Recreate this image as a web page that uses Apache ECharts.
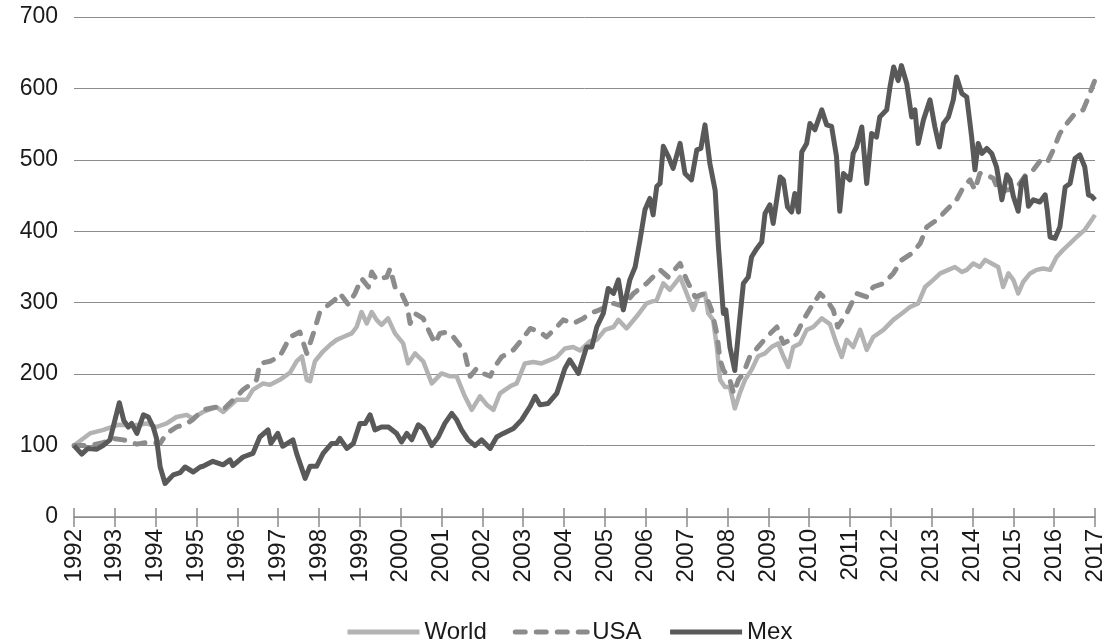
<!DOCTYPE html>
<html>
<head>
<meta charset="utf-8">
<script src="https://cdn.jsdelivr.net/npm/echarts@6/dist/echarts.min.js"></script>
<style>
html,body{margin:0;padding:0;background:#fff;}
#chart{width:1112px;height:643px;}
</style>
</head>
<body>
<div id="chart"></div>
<script>
// [year, index]
var world=[[1992.00,100],[1992.39,117],[1992.72,122],[1993.08,129],[1993.45,128],[1993.78,131],[1994.02,126],[1994.27,131],[1994.51,140],[1994.76,143],[1994.90,138],[1995.16,147],[1995.49,154],[1995.65,147],[1995.98,164],[1996.23,164],[1996.38,178],[1996.63,187],[1996.80,185],[1997.04,192],[1997.29,202],[1997.45,218],[1997.58,225],[1997.70,192],[1997.78,190],[1997.90,218],[1998.10,232],[1998.27,241],[1998.43,248],[1998.59,252],[1998.80,257],[1998.92,266],[1999.04,287],[1999.17,271],[1999.29,287],[1999.41,276],[1999.53,269],[1999.69,278],[1999.86,257],[2000.06,243],[2000.18,215],[2000.35,229],[2000.55,218],[2000.76,187],[2001.00,201],[2001.21,197],[2001.37,197],[2001.57,169],[2001.74,150],[2001.94,169],[2002.11,157],[2002.27,150],[2002.43,173],[2002.68,183],[2002.84,187],[2003.04,215],[2003.24,217],[2003.45,215],[2003.66,220],[2003.82,224],[2004.02,236],[2004.22,238],[2004.39,233],[2004.63,246],[2004.80,248],[2005.00,262],[2005.21,266],[2005.33,276],[2005.53,264],[2005.78,281],[2006.02,299],[2006.27,304],[2006.43,327],[2006.59,318],[2006.84,336],[2007.00,313],[2007.16,290],[2007.29,308],[2007.45,313],[2007.53,285],[2007.65,276],[2007.74,238],[2007.82,192],[2007.94,182],[2008.06,182],[2008.18,152],[2008.30,173],[2008.43,192],[2008.59,206],[2008.75,225],[2008.92,229],[2009.08,238],[2009.24,243],[2009.37,225],[2009.49,210],[2009.61,238],[2009.78,243],[2009.94,262],[2010.10,266],[2010.31,278],[2010.51,270],[2010.67,243],[2010.80,224],[2010.92,248],[2011.08,238],[2011.25,262],[2011.41,234],[2011.57,252],[2011.82,262],[2012.06,276],[2012.27,285],[2012.47,294],[2012.67,299],[2012.84,322],[2013.04,332],[2013.21,341],[2013.41,346],[2013.57,350],[2013.74,343],[2013.86,346],[2014.02,355],[2014.18,350],[2014.31,360],[2014.47,355],[2014.63,350],[2014.75,322],[2014.88,341],[2015.00,332],[2015.12,313],[2015.24,329],[2015.41,341],[2015.57,346],[2015.73,348],[2015.90,346],[2016.06,364],[2016.22,374],[2016.39,383],[2016.55,392],[2016.75,402],[2016.92,416],[2017.00,423]];

var usa=[[1992.00,100],[1992.39,100],[1992.71,104],[1992.96,110],[1993.21,108],[1993.54,102],[1993.86,105],[1994.11,103],[1994.27,117],[1994.51,126],[1994.76,131],[1994.90,136],[1995.16,150],[1995.49,154],[1995.65,150],[1995.90,164],[1996.14,178],[1996.47,192],[1996.55,215],[1996.80,218],[1997.04,225],[1997.29,252],[1997.53,259],[1997.70,229],[1997.86,257],[1998.02,287],[1998.23,297],[1998.39,304],[1998.51,313],[1998.72,297],[1998.88,313],[1999.04,334],[1999.21,322],[1999.29,343],[1999.41,332],[1999.53,334],[1999.66,336],[1999.74,348],[1999.86,322],[2000.02,313],[2000.15,297],[2000.23,271],[2000.35,285],[2000.55,278],[2000.72,257],[2000.84,243],[2000.96,257],[2001.13,259],[2001.29,252],[2001.45,240],[2001.57,229],[2001.70,197],[2001.86,208],[2002.02,201],[2002.19,197],[2002.31,211],[2002.47,224],[2002.76,234],[2002.96,248],[2003.17,264],[2003.41,259],[2003.57,252],[2003.82,266],[2003.98,276],[2004.23,271],[2004.47,278],[2004.63,285],[2004.87,290],[2005.21,299],[2005.45,295],[2005.70,313],[2006.02,327],[2006.35,346],[2006.55,336],[2006.84,355],[2007.00,332],[2007.21,308],[2007.45,313],[2007.61,290],[2007.74,257],[2007.82,220],[2007.90,206],[2008.06,192],[2008.15,173],[2008.27,192],[2008.39,201],[2008.55,225],[2008.75,238],[2008.96,252],[2009.21,266],[2009.37,243],[2009.53,248],[2009.70,257],[2009.86,276],[2010.06,295],[2010.27,313],[2010.43,304],[2010.59,290],[2010.70,266],[2010.92,285],[2011.16,313],[2011.41,308],[2011.57,322],[2011.82,327],[2012.06,341],[2012.27,360],[2012.51,369],[2012.72,383],[2012.88,406],[2013.13,416],[2013.37,430],[2013.61,444],[2013.78,462],[2013.94,472],[2014.06,458],[2014.18,481],[2014.35,479],[2014.51,474],[2014.67,453],[2014.84,458],[2015.00,458],[2015.16,467],[2015.33,481],[2015.49,486],[2015.65,498],[2015.82,495],[2015.98,514],[2016.14,537],[2016.31,551],[2016.51,565],[2016.71,570],[2016.84,588],[2017.00,612]];

var mex=[[1992.00,100],[1992.19,88],[1992.34,96],[1992.56,95],[1992.71,100],[1992.88,108],[1993.11,160],[1993.22,135],[1993.33,126],[1993.41,131],[1993.54,117],[1993.70,143],[1993.82,140],[1993.94,126],[1994.02,110],[1994.11,70],[1994.23,47],[1994.43,59],[1994.60,62],[1994.72,70],[1994.92,63],[1995.09,70],[1995.16,71],[1995.40,78],[1995.65,73],[1995.82,80],[1995.89,72],[1996.14,84],[1996.38,89],[1996.55,112],[1996.75,122],[1996.82,103],[1996.99,117],[1997.11,99],[1997.36,108],[1997.45,89],[1997.66,54],[1997.78,71],[1997.94,71],[1998.10,89],[1998.31,103],[1998.43,103],[1998.51,110],[1998.68,96],[1998.84,103],[1999.00,131],[1999.13,131],[1999.25,143],[1999.37,122],[1999.53,126],[1999.70,126],[1999.90,117],[2000.02,105],[2000.15,117],[2000.27,108],[2000.43,129],[2000.55,124],[2000.76,100],[2000.92,112],[2001.08,131],[2001.25,145],[2001.37,136],[2001.49,122],[2001.65,108],[2001.82,100],[2001.98,108],[2002.19,96],[2002.35,112],[2002.51,117],[2002.76,124],[2002.96,136],[2003.17,155],[2003.29,169],[2003.41,157],[2003.61,159],[2003.82,173],[2004.02,208],[2004.14,220],[2004.35,201],[2004.55,238],[2004.68,238],[2004.80,266],[2004.96,285],[2005.08,320],[2005.21,313],[2005.33,332],[2005.45,290],[2005.61,332],[2005.74,350],[2005.86,388],[2005.98,430],[2006.10,446],[2006.18,423],[2006.27,463],[2006.35,467],[2006.43,519],[2006.55,505],[2006.67,488],[2006.84,523],[2006.96,481],[2007.12,472],[2007.25,514],[2007.35,516],[2007.45,549],[2007.57,495],[2007.70,457],[2007.78,378],[2007.90,285],[2007.96,290],[2008.06,238],[2008.18,205],[2008.30,276],[2008.39,327],[2008.51,336],[2008.59,364],[2008.72,376],[2008.84,385],[2008.92,425],[2009.04,437],[2009.12,411],[2009.29,476],[2009.37,472],[2009.47,434],[2009.57,427],[2009.65,453],[2009.74,427],[2009.82,511],[2009.94,523],[2010.02,551],[2010.14,542],[2010.31,570],[2010.43,549],[2010.55,547],[2010.67,505],[2010.75,428],[2010.84,481],[2011.00,472],[2011.08,509],[2011.16,518],[2011.29,546],[2011.41,467],[2011.53,537],[2011.65,532],[2011.73,560],[2011.90,570],[2011.98,602],[2012.07,630],[2012.18,611],[2012.26,632],[2012.39,607],[2012.51,560],[2012.59,570],[2012.67,523],[2012.80,556],[2012.96,584],[2013.08,546],[2013.19,518],[2013.29,551],[2013.41,560],[2013.53,584],[2013.61,616],[2013.74,593],[2013.86,588],[2013.98,532],[2014.06,486],[2014.14,523],[2014.23,509],[2014.35,516],[2014.47,509],[2014.59,490],[2014.72,444],[2014.84,479],[2014.92,472],[2015.00,449],[2015.12,428],[2015.20,467],[2015.29,476],[2015.37,435],[2015.49,444],[2015.65,441],[2015.78,451],[2015.83,430],[2015.90,392],[2016.02,390],[2016.14,406],[2016.27,462],[2016.39,467],[2016.51,502],[2016.63,507],[2016.75,490],[2016.84,451],[2016.92,449],[2017.00,444]];

var names=['World','USA','Mex'];
var colors=['#b3b3b3','#8c8c8c','#595959'];
var firstYear=1992, lastYear=2017;
var yMax=700, yStep=100;

var font='"Liberation Sans", Arial, sans-serif';
var chart=echarts.init(document.getElementById('chart'));

var option={
	animation:false,
	backgroundColor:'#fff',
	grid:{left:74,right:17,top:17,bottom:126},
	legend:{
		left:340,top:615,
		itemWidth:72,itemHeight:14,itemGap:26,
		itemStyle:{opacity:0},
		lineStyle:{width:5},
		textStyle:{fontFamily:font,fontSize:24,color:'#1a1a1a'},
		data:names
	},
	xAxis:[{
		type:'value',min:firstYear,max:lastYear,interval:1,
		axisLine:{lineStyle:{color:'#8c8c8c',width:1.5}},
		axisTick:{length:10,lineStyle:{color:'#8c8c8c',width:1.5}},
		axisLabel:{rotate:90,margin:12,fontFamily:font,fontSize:24,color:'#1a1a1a',
			formatter:function(v){return String(v);}},
		splitLine:{show:false}
	},{
		// ticks poking above the axis line
		type:'value',min:firstYear,max:lastYear,interval:1,position:'bottom',
		axisLine:{show:false},
		axisTick:{inside:true,length:9,lineStyle:{color:'#8c8c8c',width:1.5}},
		axisLabel:{show:false},splitLine:{show:false}
	}],
	yAxis:{
		type:'value',min:0,max:yMax,interval:yStep,
		axisLine:{show:false},axisTick:{show:false},
		axisLabel:{margin:16,fontFamily:font,fontSize:23,color:'#1a1a1a'},
		splitLine:{lineStyle:{color:'#8c8c8c',width:1}}
	},
	series:[
		{name:names[0],type:'line',data:world,symbol:'none',color:colors[0],
			lineStyle:{color:colors[0],width:4.5,join:'round'}},
		{name:names[1],type:'line',data:usa,symbol:'none',color:colors[1],
			lineStyle:{color:colors[1],width:5,type:[10,11],cap:'round',join:'round'}},
		{name:names[2],type:'line',data:mex,symbol:'none',color:colors[2],
			lineStyle:{color:colors[2],width:5,join:'round'}}
	]
};
chart.setOption(option);
</script>
</body>
</html>
